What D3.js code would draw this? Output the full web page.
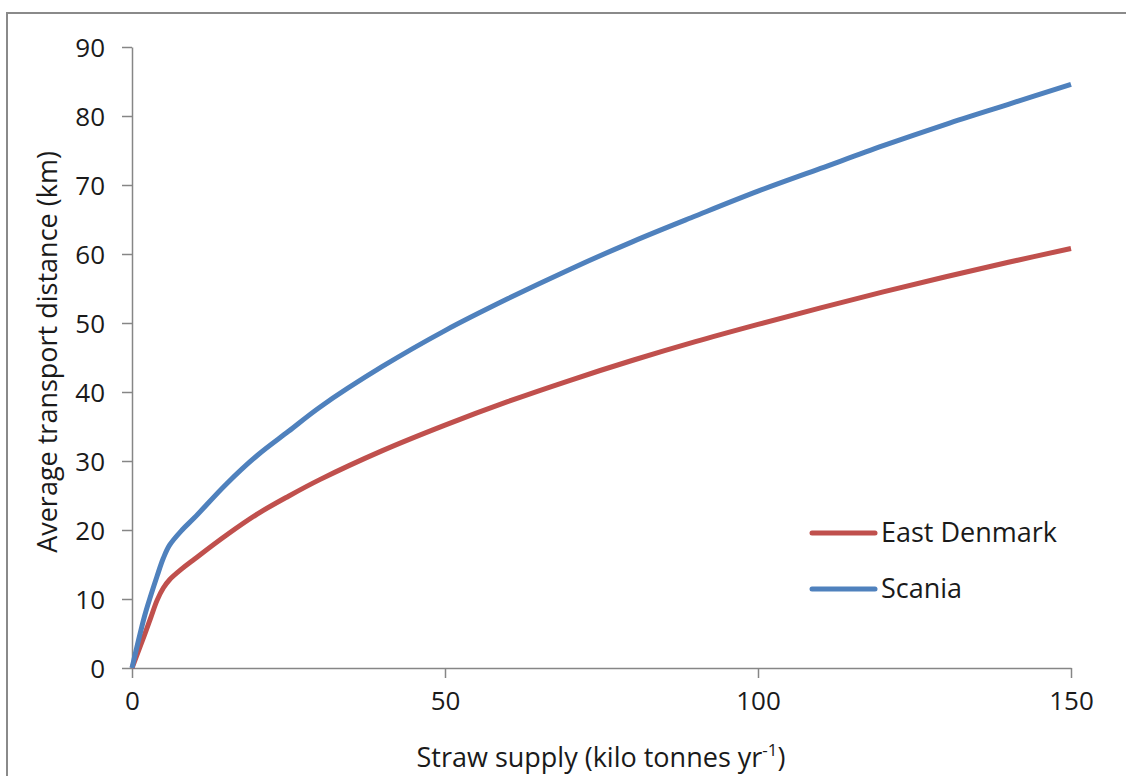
<!DOCTYPE html>
<html>
    <head>
        <script src="https://d3js.org/d3.v7.min.js"></script>
        <style>
            body { margin: 0; background: #fff; }
            text { font-family: "Open Sans", sans-serif; fill: #1a1a1a; }
        </style>
    </head>
    <body>
        <script>
            // values
            var supply = [0, 2, 3, 4, 5, 6, 8, 10, 15, 20, 25, 30, 40, 50, 60, 70, 80, 90, 100, 110, 120, 130, 140, 150];
            var scania = [0, 7.5, 10.5, 13.3, 15.9, 17.8, 20.0, 21.8, 26.6, 30.8, 34.3, 37.8, 43.7, 48.9, 53.5, 57.8, 61.8, 65.5, 69.1, 72.4, 75.7, 78.8, 81.7, 84.6];
            var eastDenmark = [0, 4.8, 7.3, 9.8, 11.6, 12.8, 14.4, 15.8, 19.2, 22.3, 24.9, 27.3, 31.5, 35.2, 38.6, 41.7, 44.6, 47.3, 49.8, 52.2, 54.5, 56.7, 58.8, 60.8];
            var xTicks = [0, 50, 100, 150];
            var yTicks = [0, 10, 20, 30, 40, 50, 60, 70, 80, 90];
            var seriesNames = ["East Denmark", "Scania"];
            var seriesColors = ["#c0504d", "#4f81bd"];

            var width = 1126, height = 776;

            var svg = d3.select('body').append('svg')
                .attr('width', width)
                .attr('height', height);

            // outer frame
            svg.append('rect')
                .attr('x', 7).attr('y', 13)
                .attr('width', 1130).attr('height', 800)
                .attr('fill', 'none')
                .attr('stroke', '#8a8a8a')
                .attr('stroke-width', 2);

            var x = d3.scaleLinear().domain([0, 150]).range([132, 1071]);
            var y = d3.scaleLinear().domain([0, 90]).range([668, 47]);

            var xAxis = svg.append('g')
                .attr('transform', 'translate(0,668)')
                .call(d3.axisBottom(x).tickValues(xTicks).tickSize(10).tickPadding(9).tickSizeOuter(0));
            var yAxis = svg.append('g')
                .attr('transform', 'translate(132,0)')
                .call(d3.axisLeft(y).tickValues(yTicks).tickSize(10).tickPadding(17).tickSizeOuter(0));

            [xAxis, yAxis].forEach(function (a) {
                a.selectAll('path, line').attr('stroke', '#868686').attr('stroke-width', 1.5);
                a.selectAll('text')
                    .style('font-family', '"Open Sans", sans-serif')
                    .style('font-size', '26px')
                    .attr('fill', '#1a1a1a');
            });
            xAxis.selectAll('text').attr('dy', '0.9em');
            yAxis.selectAll('text').attr('dy', '0.35em');

            var line = d3.line()
                .x(function (d) { return x(d[0]); })
                .y(function (d) { return y(d[1]); })
                .curve(d3.curveCatmullRom.alpha(0.5));

            var allSeries = [eastDenmark, scania];
            allSeries.forEach(function (vals, i) {
                svg.append('path')
                    .datum(supply.map(function (s, j) { return [s, vals[j]]; }))
                    .attr('fill', 'none')
                    .attr('stroke', seriesColors[i])
                    .attr('stroke-width', 5)
                    .attr('stroke-linejoin', 'round')
                    .attr('d', line);
            });

            // legend
            var legend = svg.selectAll('.legend')
                .data(seriesNames)
                .enter()
                .append('g')
                .attr('transform', function (d, i) {
                    return 'translate(812,' + (533 + i * 56) + ')';
                });
            legend.append('line')
                .attr('x1', 0).attr('x2', 63)
                .attr('stroke', function (d, i) { return seriesColors[i]; })
                .attr('stroke-width', 5)
                .attr('stroke-linecap', 'round');
            legend.append('text')
                .attr('x', 69)
                .attr('dy', '0.35em')
                .style('font-size', '27px')
                .text(function (d) { return d; });

            // axis titles
            var xl = svg.append('text')
                .attr('x', 601).attr('y', 767)
                .attr('text-anchor', 'middle')
                .style('font-size', '27px')
                .text('Straw supply (kilo tonnes yr');
            xl.append('tspan').attr('dy', -11).style('font-size', '17px').text('-1');
            xl.append('tspan').attr('dy', 11).text(')');

            svg.append('text')
                .attr('transform', 'translate(57,352) rotate(-90)')
                .attr('text-anchor', 'middle')
                .style('font-size', '27px')
                .text('Average transport distance (km)');
        </script>
    </body>
</html>
